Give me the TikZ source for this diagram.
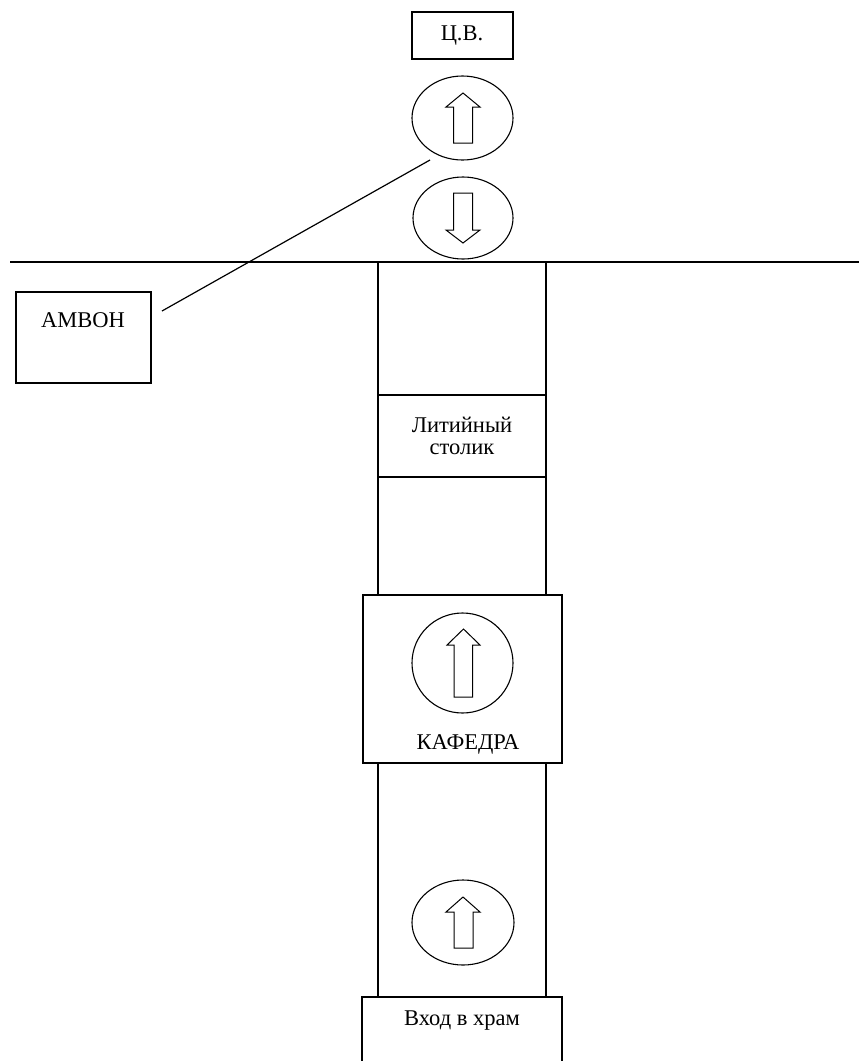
\documentclass[tikz,border=0pt]{standalone}
\usepackage{fontspec}
\setmainfont{Liberation Serif}
\usetikzlibrary{shapes.geometric}
\begin{document}
\begin{tikzpicture}[x=1pt,y=-1pt, line width=1.4pt,
  lbl/.style={font=\fontsize{22.5}{22}\selectfont, inner sep=0pt},
  box/.style={draw, rectangle, inner sep=0pt},
  oval/.style={draw, ellipse, inner sep=0pt, line width=1.1pt},
  blockarrow/.style={draw, line width=1pt, line join=miter}]
\useasboundingbox (0,0) rectangle (859,1061);

% Ц.В.
\node[box, minimum width=101pt, minimum height=47pt] (cv) at (462.5,35.5) {};
\node[lbl] (cvtext) at (462,36) {Ц.В.};

% ovals near the top
\node[oval, minimum width=101pt, minimum height=84pt] (o1) at (462.5,118) {};
\node[oval, minimum width=100pt, minimum height=82pt] (o2) at (463,218) {};
\draw[blockarrow] (453.5,143) -- (453.5,107) -- (446,107) -- (463,93) -- (480,107) -- (472.5,107) -- (472.5,143) -- cycle;
\draw[blockarrow] (453.5,193) -- (453.5,230) -- (446,230) -- (463,243) -- (480,230) -- (472.5,230) -- (472.5,193) -- cycle;

% wall line
\coordinate (wl) at (10,262);
\coordinate (wr) at (859,262);
\draw (wl) -- (wr);

% АМВОН
\node[box, minimum width=135pt, minimum height=91pt] (ambon) at (83.5,337.5) {};
\node[lbl] (ambontext) at (83,320) {АМВОН};
\coordinate (ambonline) at (162,311);
\coordinate (o1end) at (430,160);
\draw[line width=1.2pt] (ambonline) -- (o1end);

% upper corridor
\node[box, minimum width=168pt, minimum height=333pt] (corr1) at (462,428.5) {};
\node[box, minimum width=168pt, minimum height=82pt, align=center, font=\fontsize{22.5}{22}\selectfont] (lit) at (462,436) {Литийный\\столик};

% КАФЕДРА
\node[box, minimum width=199pt, minimum height=168pt, fill=white] (kaf) at (462.5,679) {};
\node[oval, minimum width=101pt, minimum height=100pt] (o3) at (462.5,663) {};
\draw[blockarrow] (454,697) -- (454,645) -- (447,645) -- (463.5,629) -- (480,645) -- (472.5,645) -- (472.5,697) -- cycle;
\node[lbl] (kaftext) at (468,744) {КАФЕДРА};

% lower corridor
\node[box, minimum width=168pt, minimum height=234pt] (corr2) at (462,880) {};
\node[oval, minimum width=102pt, minimum height=85pt] (o4) at (463,922.5) {};
\draw[blockarrow] (454,948) -- (454,912) -- (446,912) -- (463,897) -- (480,912) -- (473,912) -- (473,948) -- cycle;

% Вход в храм
\coordinate (vbl) at (362,1075);
\coordinate (vtl) at (362,997);
\coordinate (vtr) at (562,997);
\coordinate (vbr) at (562,1075);
\fill[white] (vbl) rectangle (vtr);
\draw (vbl) -- (vtl) -- (vtr) -- (vbr);
\node[lbl] (vhod) at (462,1021) {Вход в храм};
\end{tikzpicture}
\end{document}
